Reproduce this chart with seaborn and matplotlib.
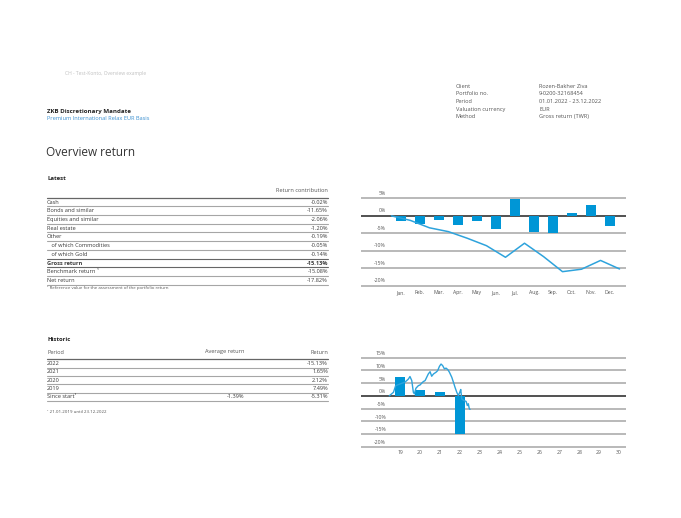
import numpy as np
import matplotlib
matplotlib.use("Agg")
import matplotlib.pyplot as plt
import seaborn as sns
from matplotlib.lines import Line2D

# --- data -------------------------------------------------------------
months = ["Jan.", "Feb.", "Mar.", "Apr.", "May", "Jun.", "Jul.", "Aug.", "Sep.", "Oct.", "Nov.", "Dec."]
monthly_return = [-1.4, -2.45, -1.1, -2.65, -1.6, -3.8, 4.9, -4.5, -4.9, 0.85, 3.1, -2.8]
cumulative_return = [0, -1.3, -3.4, -4.5, -6.4, -8.5, -11.8, -7.8, -11.6, -15.9, -15.2, -12.7, -15.13]
top_ticks = [5, 0, -5, -10, -15, -20]

years = [19, 20, 21, 22, 23, 24, 25, 26, 27, 28, 29, 30]
annual_years = [19, 20, 21, 22]
annual_return = [7.49, 2.12, 1.65, -15.13]
since_start_t = [18.46, 18.67, 18.78, 19.25, 19.42, 19.50, 19.59, 19.67, 19.72, 19.80, 19.92,
                 20.01, 20.09, 20.17, 20.26, 20.34, 20.42, 20.51, 20.59, 20.68, 20.81, 20.89,
                 20.98, 21.06, 21.14, 21.23, 21.31, 21.40, 21.48, 21.60, 21.68, 21.76, 21.85,
                 21.93, 22.00, 22.05, 22.10, 22.20, 22.32, 22.38, 22.43, 22.48, 22.52]
since_start_ret = [0, 1.4, 4.0, 5.4, 6.6, 7.6, 6.0, 1.4, 0.8, 3.0, 4.0,
                   4.3, 5.0, 5.6, 6.0, 7.3, 8.6, 9.5, 7.7, 8.6, 9.3, 9.9,
                   11.6, 12.5, 11.9, 10.6, 10.9, 10.3, 9.3, 7.3, 5.4, 3.4, 1.4,
                   0.1, 1.4, 2.5, -1.2, -1.8, -2.2, -3.8, -3.1, -5.1, -5.3]
bottom_ticks = [15, 10, 5, 0, -5, -10, -15, -20]

info_labels = ["Client", "Portfolio no.", "Period", "Valuation currency", "Method"]
info_values = ["Rozen-Bakher Ziva", "9-0200-32168454", "01.01.2022 - 23.12.2022", "EUR", "Gross return (TWR)"]

latest_labels = ["Cash", "Bonds and similar", "Equities and similar", "Real estate", "Other",
                 "   of which Commodities", "   of which Gold", "Gross return",
                 "Benchmark return \u00b9", "Net return"]
latest_values = ["-0.02%", "-11.65%", "-2.06%", "-1.20%", "-0.19%", "-0.05%", "-0.14%",
                 "-15.13%", "-15.08%", "-17.82%"]

hist_periods = ["2022", "2021", "2020", "2019", "Since start\u00b9"]
hist_average = ["", "", "", "", "-1.39%"]
hist_return = ["-15.13%", "1.65%", "2.12%", "7.49%", "-5.31%"]

# --- style ------------------------------------------------------------
sns.set_theme(style="white")
plt.rcParams["font.family"] = ["Open Sans", "DejaVu Sans"]

BLUE = "#0096d6"
LINE_BLUE = "#2ea3dc"
TXT = "#3a3a3a"
GRID = "#a6a6a6"

W, H = 681, 518
fig = plt.figure(figsize=(W / 100, H / 100), dpi=100)
fig.patch.set_facecolor("white")


def put(x, y, s, **kw):
    kw.setdefault("color", TXT)
    kw.setdefault("fontsize", 4.1)
    fig.text(x / W, 1 - y / H, s, va="center", **kw)


def hline(y, x0, x1, color=GRID, lw=0.8):
    fig.add_artist(Line2D([x0 / W, x1 / W], [1 - y / H] * 2, color=color, lw=lw))


# --- header -----------------------------------------------------------
put(65, 74, "CH - Test-Konto, Overview example", color="#c0c0c0", fontsize=3.6)
put(47, 111, "ZKB Discretionary Mandate", fontsize=4.4, fontweight="bold", color="#222222")
put(47, 119, "Premium International Relax EUR Basis", fontsize=4.1, color="#3a8fd0")
put(46, 152, "Overview return", fontsize=8.5, color="#333333")

for i, (lab, val) in enumerate(zip(info_labels, info_values)):
    y = 86 + i * 7.7
    put(456, y, lab, color="#555555")
    put(539, y, val, color="#555555")

# --- latest table -----------------------------------------------------
put(47, 179, "Latest", fontsize=4.3, fontweight="bold", color="#222222")
put(328, 191, "Return contribution", ha="right", color="#555555")
hline(197.7, 47, 328, color="#666666", lw=0.9)
for i, (lab, val) in enumerate(zip(latest_labels, latest_values)):
    y = 202.2 + i * 8.7
    w = "bold" if lab == "Gross return" else "normal"
    put(47, y, lab, fontweight=w)
    put(328, y, val, ha="right", fontweight=w)
    hline(197.7 + (i + 1) * 8.7, 47, 328, color="#666666" if i in (6, 7) else GRID)
put(47, 288.5, "\u00b9 Reference value for the assessment of the portfolio return", fontsize=3.2, color="#555555")

# --- historic table ---------------------------------------------------
put(47, 339.3, "Historic", fontsize=4.3, fontweight="bold", color="#222222")
put(47, 352, "Period", color="#555555")
put(225, 352, "Average return", ha="center", color="#555555")
put(328, 352, "Return", ha="right", color="#555555")
hline(359.3, 47, 328, color="#666666", lw=0.9)
for i, (p, a, r) in enumerate(zip(hist_periods, hist_average, hist_return)):
    y = 363.3 + i * 8.35
    put(47, y, p)
    put(244, y, a, ha="right")
    put(328, y, r, ha="right")
    hline(359.3 + (i + 1) * 8.35, 47, 328)
put(47, 412, "\u00b9 21.01.2019 until 23.12.2022", fontsize=3.2, color="#555555")


# --- charts -----------------------------------------------------------
def chart_axes(x0, x1, y_top, y_bottom):
    ax = fig.add_axes([x0 / W, 1 - y_bottom / H, (x1 - x0) / W, (y_bottom - y_top) / H])
    ax.set_facecolor("none")
    for s in ax.spines.values():
        s.set_visible(False)
    ax.set_yticks([])
    ax.tick_params(axis="x", length=0, pad=1.6, labelsize=3.7, labelcolor="#555555")
    return ax


def grid_and_labels(ax, ticks, label_x, offset):
    for v in ticks:
        ax.axhline(v, color="#222222" if v == 0 else GRID, lw=1.1, zorder=1)
        ax.text(label_x, v + offset, f"{v}%", ha="right", va="center",
                fontsize=3.7, color="#555555")


# top: monthly returns with cumulative line
ax1 = chart_axes(361, 626, 194.8, 287.8)
sns.barplot(x=list(range(len(months))), y=monthly_return, color=BLUE, width=0.5,
            saturation=1, native_scale=True, linewidth=0, ax=ax1, zorder=2)
ax1.plot(np.arange(len(cumulative_return)) - 0.5, cumulative_return, color=LINE_BLUE, lw=1.1, zorder=3)
ax1.set_xlim(-2.1, 11.84)
ax1.set_ylim(-20.5, 6)
ax1.set_xticks(range(len(months)))
ax1.set_xticklabels(months)
ax1.set_xlabel("")
grid_and_labels(ax1, top_ticks, -0.8, 1.45)

# bottom: annual returns with since-start line
ax2 = chart_axes(361, 626, 352.6, 448.0)
sns.barplot(x=annual_years, y=annual_return, color=BLUE, width=0.48,
            saturation=1, native_scale=True, linewidth=0, ax=ax2, zorder=2)
ax2.plot(since_start_t, since_start_ret, color=LINE_BLUE, lw=1.0, zorder=3)
ax2.set_xlim(17.04, 30.35)
ax2.set_ylim(-20.5, 17)
ax2.set_xticks(years)
ax2.set_xticklabels([str(y) for y in years])
ax2.set_xlabel("")
grid_and_labels(ax2, bottom_ticks, 18.3, 1.6)

fig.savefig("out.png", dpi=100, facecolor="white")
